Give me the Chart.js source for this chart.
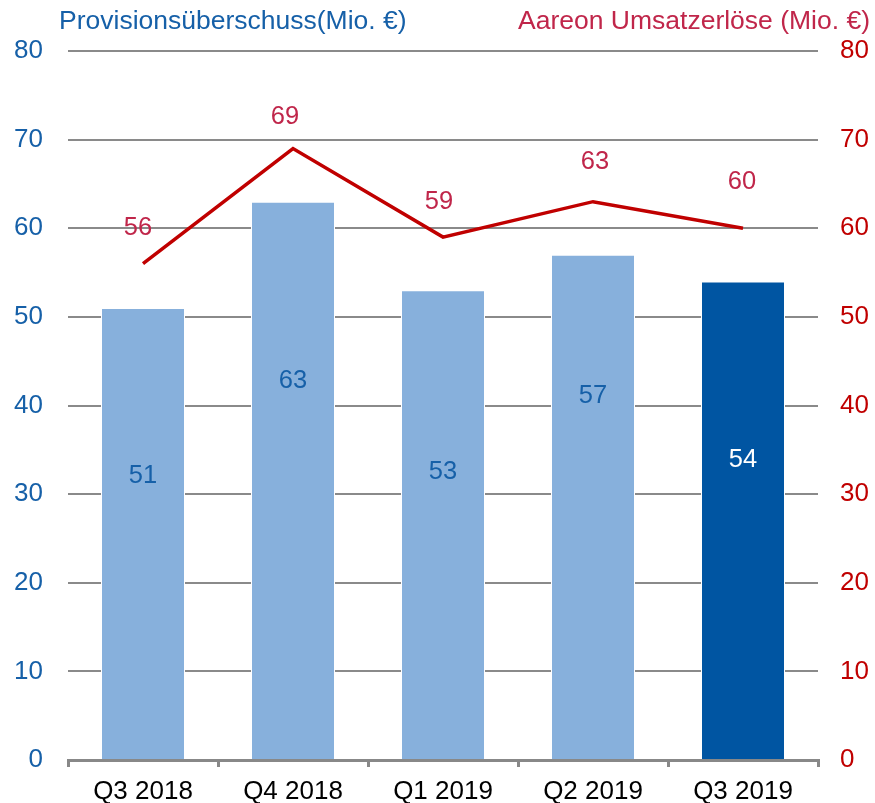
<!DOCTYPE html>
<html>
<head>
<meta charset="utf-8">
<script src="https://cdn.jsdelivr.net/npm/chart.js@4/dist/chart.umd.min.js"></script>
<style>
  html, body { margin: 0; padding: 0; background: #ffffff; }
  #wrap { width: 875px; height: 803px; position: relative; }
</style>
</head>
<body>
<div id="wrap"><canvas id="c" width="875" height="803"></canvas></div>
<script>
const categories = ['Q3 2018', 'Q4 2018', 'Q1 2019', 'Q2 2019', 'Q3 2019'];
const provisionValues = [51, 63, 53, 57, 54];
const aareonValues = [56, 69, 59, 63, 60];
const leftTicks = [0, 10, 20, 30, 40, 50, 60, 70, 80];
const rightTicks = [0, 10, 20, 30, 40, 50, 60, 70, 80];
const leftTitle = 'Provisionsüberschuss(Mio. €)';
const rightTitle = 'Aareon Umsatzerlöse (Mio. €)';

const FONT = '"Liberation Sans", Arial, sans-serif';
const BLUE_TXT = '#1660a8';
const RED_TICK = '#c00000';
const CRIMSON = '#c0264a';

// label placement (in value units of the axis) as seen in the reference
const barLabelAt = [32.1, 42.8, 32.5, 41.1, 33.9];
const lineLabelAt = [60.0, 72.6, 63.0, 67.5, 65.2];
const lineLabelDx = [-5, -8, -4, 2, -1];

const labelsPlugin = {
  id: 'customLabels',
  afterDatasetsDraw(chart) {
    const ctx = chart.ctx;
    const yS = chart.scales.y;
    const y1S = chart.scales.y1;
    ctx.save();
    ctx.font = '25.5px ' + FONT;
    ctx.textAlign = 'center';
    ctx.textBaseline = 'middle';
    const barMeta = chart.getDatasetMeta(0);
    barMeta.data.forEach((el, i) => {
      ctx.fillStyle = i === provisionValues.length - 1 ? '#ffffff' : BLUE_TXT;
      ctx.fillText(String(provisionValues[i]), el.x, yS.getPixelForValue(barLabelAt[i]));
    });
    const lineMeta = chart.getDatasetMeta(1);
    lineMeta.data.forEach((el, i) => {
      ctx.fillStyle = CRIMSON;
      ctx.fillText(String(aareonValues[i]), el.x + lineLabelDx[i], y1S.getPixelForValue(lineLabelAt[i]));
    });
    ctx.font = '26.5px ' + FONT;
    ctx.textBaseline = 'middle';
    ctx.textAlign = 'left';
    ctx.fillStyle = BLUE_TXT;
    ctx.fillText(leftTitle, 59, 22);
    ctx.textAlign = 'right';
    ctx.fillStyle = CRIMSON;
    ctx.fillText(rightTitle, 870, 22);
    ctx.restore();
  }
};

new Chart(document.getElementById('c'), {
  data: {
    labels: categories,
    datasets: [
      {
        type: 'bar',
        label: leftTitle,
        data: provisionValues,
        yAxisID: 'y',
        backgroundColor: provisionValues.map((v, i) => i === provisionValues.length - 1 ? '#0055a2' : '#87b0dc'),
        borderColor: '#ffffff',
        borderWidth: 1,
        categoryPercentage: 1.0,
        barPercentage: 0.56,
        order: 2
      },
      {
        type: 'line',
        label: rightTitle,
        data: aareonValues,
        yAxisID: 'y1',
        borderColor: '#c00000',
        borderWidth: 3.5,
        pointRadius: 0,
        tension: 0,
        fill: false,
        order: 1
      }
    ]
  },
  options: {
    responsive: false,
    animation: false,
    layout: { padding: { top: 51, left: 0, right: 0, bottom: 0 } },
    plugins: {
      legend: { display: false },
      tooltip: { enabled: false },
      title: { display: false }
    },
    scales: {
      x: {
        offset: true,
        grid: {
          offset: true,
          drawOnChartArea: false,
          drawTicks: true,
          tickLength: 7,
          color: '#888888',
          lineWidth: 3
        },
        border: { display: true, color: '#888888', width: 3 },
        ticks: {
          color: '#000000',
          font: { family: FONT, size: 26 },
          padding: 9,
          maxRotation: 0,
          autoSkip: false
        },
        afterFit(scale) { scale.height = 43; }
      },
      y: {
        position: 'left',
        min: 0,
        max: 80,
        afterBuildTicks(scale) { scale.ticks = leftTicks.map(v => ({ value: v })); },
        ticks: {
          color: BLUE_TXT,
          font: { family: FONT, size: 26 },
          padding: 25
        },
        grid: {
          color: (c) => c.tick && c.tick.value === 0 ? 'rgba(0,0,0,0)' : '#8a8a8a',
          lineWidth: 2,
          drawTicks: false
        },
        border: { display: false },
        afterFit(scale) { scale.width = 68; }
      },
      y1: {
        position: 'right',
        min: 0,
        max: 80,
        afterBuildTicks(scale) { scale.ticks = rightTicks.map(v => ({ value: v })); },
        ticks: {
          color: RED_TICK,
          font: { family: FONT, size: 26 },
          padding: 22
        },
        grid: { drawOnChartArea: false, drawTicks: false },
        border: { display: false },
        afterFit(scale) { scale.width = 57; }
      }
    }
  },
  plugins: [labelsPlugin]
});
</script>
</body>
</html>
